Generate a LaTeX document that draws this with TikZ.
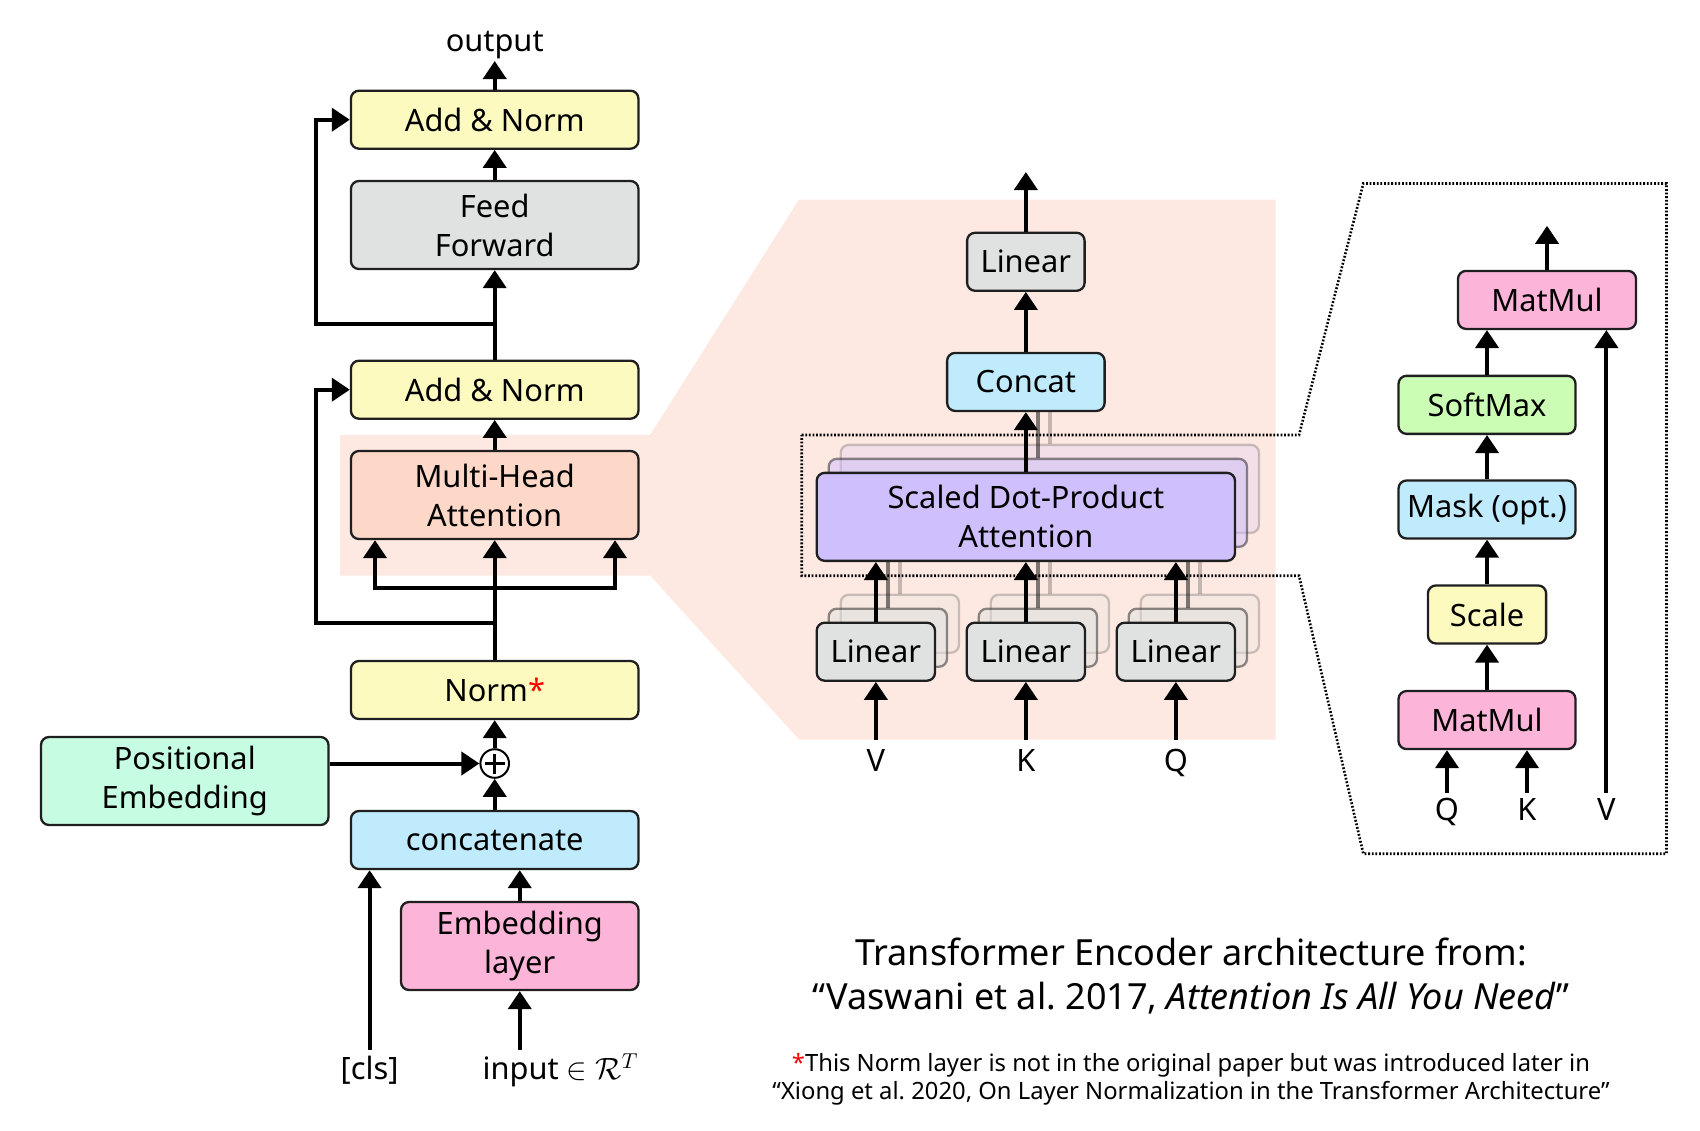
\documentclass[tikz,border=0pt]{standalone}
\usepackage{fix-cm}
\usepackage{fontspec}
\setmainfont{Noto Sans}
\usetikzlibrary{arrows.meta}
\definecolor{normyellow}{HTML}{FDFAC0}
\definecolor{ffgrey}{HTML}{E0E2E1}
\definecolor{mhapeach}{HTML}{FDD8C8}
\definecolor{zoompink}{HTML}{FDE9E2}
\definecolor{posgreen}{HTML}{C5FCE2}
\definecolor{catblue}{HTML}{C0EBFC}
\definecolor{embpink}{HTML}{FCB5D9}
\definecolor{sdpapurple}{HTML}{CFBFFC}
\definecolor{softgreen}{HTML}{CBFEB4}
\tikzset{
    block/.style={draw=black!88, line width=1.15pt, rounded corners=4pt, align=center, inner sep=0pt, font=\fontsize{15.4}{19.5}\selectfont},
    one line/.style={minimum height=29pt},
    two lines/.style={minimum height=44pt},
    widebox/.style={minimum width=143.75pt},
    arr/.style={-{Triangle[length=9pt,width=11.5pt]}, line width=2pt},
    arr both/.style={{Triangle[length=9pt,width=11.5pt]}-{Triangle[length=9pt,width=11.5pt]}, line width=2pt},
    ghost one/.style={opacity=0.5},
    ghost two/.style={opacity=0.22},
    ghostline/.style={line width=1.7pt},
    lbl/.style={inner sep=0pt, outer sep=4pt, text height=10.8pt, text depth=0pt, font=\fontsize{15.4}{19.5}\selectfont},
    zoomframe/.style={line width=1.3pt, dash pattern=on 0.9pt off 0.9pt},
}
\begin{document}
\begin{tikzpicture}[x=0.5pt, y=-0.5pt]
    \useasboundingbox (0,0) rectangle (1700,1130);
    %draw zoom background
    \fill[zoompink] (340,435) -- (650,435) -- (799,199.5) -- (1275.5,199.5) -- (1275.5,739.5) -- (799,739.5) -- (650,575.5) -- (340,575.5) -- cycle;
    %draw dotted zoom frame
    \draw[zoomframe] (801.7,435) -- (1299,435) -- (1363.3,183.5) -- (1666.5,183.5) -- (1666.5,853.7) -- (1363.3,853.7) -- (1299,575.7) -- (801.7,575.7) -- cycle;

    %draw encoder blocks
    \node[block, widebox, one line, fill=normyellow] (an1) at (494.7,119.7) {Add \& Norm};
    \node[block, widebox, two lines, fill=ffgrey] (ff) at (494.7,225) {Feed\\Forward};
    \node[block, widebox, one line, fill=normyellow] (an2) at (494.7,389.7) {Add \& Norm};
    \node[block, widebox, two lines, fill=mhapeach] (mha) at (494.7,495) {Multi-Head\\Attention};
    \node[block, widebox, one line, fill=normyellow] (norm) at (494.7,690) {Norm{\color{red}*}};
    \node[draw, circle, line width=1pt, minimum size=14.3pt, inner sep=0pt, fill=white] (add) at (494.7,763.5) {};
    \draw[line width=1.6pt] ([xshift=-5pt]add.center) -- ([xshift=5pt]add.center);
    \draw[line width=1.6pt] ([yshift=-5pt]add.center) -- ([yshift=5pt]add.center);
    \node[block, widebox, two lines, fill=posgreen] (pe) at (184.75,781) {Positional\\Embedding};
    \node[block, widebox, one line, fill=catblue] (cat) at (494.7,840) {concatenate};
    \node[block, two lines, minimum width=118.75pt, fill=embpink] (emb) at (519.75,946) {Embedding\\layer};
    \node[lbl, anchor=north] (cls) at (369.6,1049.7) {[cls]};
    \node[lbl, anchor=north west] (inp) at (474.6,1049.7) {input $\in\mathcal{R}^T$};
    \node[lbl, outer sep=1pt, text depth=3.7pt, anchor=south] (output) at (494.7,61) {output};
    \coordinate (barL) at (375,587.7);
    \coordinate (barR) at (615,587.7);
    \coordinate (res1) at (316,324.3);
    \coordinate (res2) at (316,623.4);

    %draw encoder arrows
    \draw[arr] (cls.north) -- (cls.north |- cat.south);
    \draw[arr] (inp.north -| emb.south) -- (emb.south);
    \draw[arr] (emb.north) -- (emb.north |- cat.south);
    \draw[arr] (cat.north) -- (add.south);
    \draw[arr] (pe.east |- add.west) -- (add.west);
    \draw[arr] (add.north) -- (norm.south);
    \draw[arr] (norm.north) -- (mha.south);
    \draw[arr both] (barL |- mha.south) -- (barL) -- (barR) -- (barR |- mha.south);
    \draw[arr] (norm.north |- res2) -- (res2) -- (res2 |- an2.west) -- (an2.west);
    \draw[arr] (mha.north) -- (an2.south);
    \draw[arr] (an2.north) -- (ff.south);
    \draw[arr] (an2.north |- res1) -- (res1) -- (res1 |- an1.west) -- (an1.west);
    \draw[arr] (ff.north) -- (an1.south);
    \draw[arr] (an1.north) -- (output.south);

    %draw multi-head attention
    \node[block, one line, minimum width=58.75pt, fill=ffgrey] (lin) at (1025.85,261.75) {Linear};
    \node[block, one line, minimum width=78.75pt, fill=catblue] (concat) at (1025.85,381.9) {Concat};
    \coordinate (mhaout) at (1025.85,172);
    \node[block, two lines, minimum width=209.15pt, fill=sdpapurple, ghost two] (sdpa2) at (1049.85,488.85) {};
    \draw[ghostline, ghost two] (sdpa2.north) -- (sdpa2.north |- concat.south);
    \node[block, two lines, minimum width=209.15pt, fill=sdpapurple, ghost one] (sdpa1) at (1037.85,502.85) {};
    \draw[ghostline, ghost one] (sdpa1.north) -- (sdpa1.north |- concat.south);
    %linear heads for V
    \node[block, one line, minimum width=59.15pt, fill=ffgrey, ghost two] (linV2) at (899.85,623.7) {};
    \draw[ghostline, ghost two] (linV2.north) -- (linV2.north |- sdpa2.south);
    \node[block, one line, minimum width=59.15pt, fill=ffgrey, ghost one] (linV1) at (887.85,637.7) {};
    \draw[ghostline, ghost one] (linV1.north) -- (linV1.north |- sdpa1.south);
    \node[block, one line, minimum width=59.15pt, fill=ffgrey] (linV) at (875.85,651.7) {Linear};
    %linear heads for K
    \node[block, one line, minimum width=59.15pt, fill=ffgrey, ghost two] (linK2) at (1049.85,623.7) {};
    \draw[ghostline, ghost two] (linK2.north) -- (linK2.north |- sdpa2.south);
    \node[block, one line, minimum width=59.15pt, fill=ffgrey, ghost one] (linK1) at (1037.85,637.7) {};
    \draw[ghostline, ghost one] (linK1.north) -- (linK1.north |- sdpa1.south);
    \node[block, one line, minimum width=59.15pt, fill=ffgrey] (linK) at (1025.85,651.7) {Linear};
    %linear heads for Q
    \node[block, one line, minimum width=59.15pt, fill=ffgrey, ghost two] (linQ2) at (1199.85,623.7) {};
    \draw[ghostline, ghost two] (linQ2.north) -- (linQ2.north |- sdpa2.south);
    \node[block, one line, minimum width=59.15pt, fill=ffgrey, ghost one] (linQ1) at (1187.85,637.7) {};
    \draw[ghostline, ghost one] (linQ1.north) -- (linQ1.north |- sdpa1.south);
    \node[block, one line, minimum width=59.15pt, fill=ffgrey] (linQ) at (1175.85,651.7) {Linear};
    \node[block, two lines, minimum width=209.15pt, fill=sdpapurple] (sdpa) at (1025.85,516.85) {Scaled Dot-Product\\Attention};
    \node[lbl, anchor=north, outer sep=5pt] (labV) at (875.85,739.5) {V};
    \node[lbl, anchor=north, outer sep=5pt] (labK) at (1025.85,739.5) {K};
    \node[lbl, anchor=north, outer sep=5pt] (labQ) at (1175.85,739.5) {Q};
    \draw[arr] (labV.north) -- (linV.south);
    \draw[arr] (labK.north) -- (linK.south);
    \draw[arr] (labQ.north) -- (linQ.south);
    \draw[arr] (linV.north) -- (linV.north |- sdpa.south);
    \draw[arr] (linK.north) -- (linK.north |- sdpa.south);
    \draw[arr] (linQ.north) -- (linQ.north |- sdpa.south);
    \draw[arr] (sdpa.north) -- (concat.south);
    \draw[arr] (concat.north) -- (lin.south);
    \draw[arr] (lin.north) -- (mhaout);

    %draw scaled dot-product attention
    \node[block, one line, minimum width=89pt, fill=embpink] (mm2) at (1547,299.9) {MatMul};
    \node[block, one line, minimum width=88.5pt, fill=softgreen] (soft) at (1487,404.85) {SoftMax};
    \node[block, one line, minimum width=88.5pt, fill=catblue] (mask) at (1487,509.5) {Mask (opt.)};
    \node[block, one line, minimum width=59.1pt, fill=normyellow] (scale) at (1487,614.45) {Scale};
    \node[block, one line, minimum width=88.5pt, fill=embpink] (mm1) at (1487,720.05) {MatMul};
    \coordinate (attout) at (1547,225.8);
    \node[lbl, anchor=north, outer sep=3pt] (labQ2) at (1447,792.8) {Q};
    \node[lbl, anchor=north, outer sep=3pt] (labK2) at (1527,792.8) {K};
    \node[lbl, anchor=north, outer sep=3pt] (labV2) at (1606.4,792.8) {V};
    \draw[arr] (labQ2.north) -- (labQ2.north |- mm1.south);
    \draw[arr] (labK2.north) -- (labK2.north |- mm1.south);
    \draw[arr] (labV2.north) -- (labV2.north |- mm2.south);
    \draw[arr] (mm1.north) -- (scale.south);
    \draw[arr] (scale.north) -- (mask.south);
    \draw[arr] (mask.north) -- (soft.south);
    \draw[arr] (soft.north) -- (soft.north |- mm2.south);
    \draw[arr] (mm2.north) -- (attout);

    %draw captions
    \node[font=\fontsize{18}{21.7}\selectfont, align=center] (title) at (1191,976) {Transformer Encoder architecture from:\\“Vaswani et al.\ 2017, \textit{Attention Is All You Need}”};
    \node[font=\fontsize{11.9}{14}\selectfont, align=center] (note) at (1191,1079) {{\color{red}*}This Norm layer is not in the original paper but was introduced later in\\“Xiong et al.\ 2020, On Layer Normalization in the Transformer Architecture”};
\end{tikzpicture}
\end{document}
